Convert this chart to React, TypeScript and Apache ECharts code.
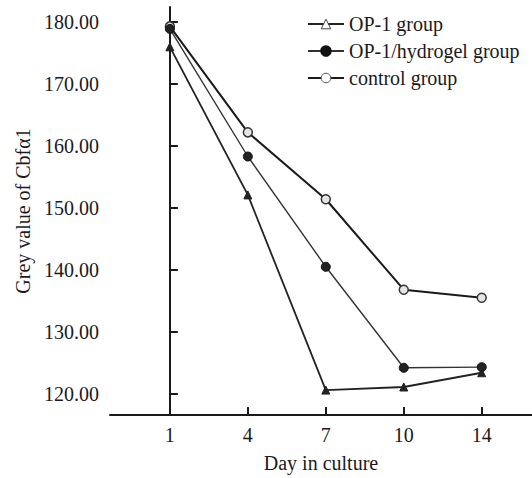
import React, { useEffect, useRef } from "react";
import * as echarts from "echarts";

const days = ["1", "4", "7", "10", "14"];
const op1Group = [176.0, 152.1, 120.6, 121.1, 123.4];
const hydrogelGroup = [178.9, 158.3, 140.5, 124.2, 124.3];
const controlGroup = [179.3, 162.2, 151.4, 136.8, 135.5];
const yTicks = [120, 130, 140, 150, 160, 170, 180];

const FONT = '"Liberation Serif", "Times New Roman", serif';
const INK = "#1a1a1a";

export default function App() {
  const ref = useRef<HTMLDivElement>(null);
  useEffect(() => {
    if (!ref.current) return;
    const chart = echarts.init(ref.current, undefined, { renderer: "svg" });
    const toPts = (arr: number[]) => arr.map((v, i) => [i, v]);
    const tickIdx = days.map((_, i) => i);
    chart.setOption({
      animation: false,
      backgroundColor: "#ffffff",
      textStyle: { fontFamily: FONT, color: INK },
      grid: { left: 110, right: 0, top: 7, bottom: 57 },
      legend: {
        orient: "vertical",
        left: 302,
        top: 9,
        itemGap: 7,
        itemWidth: 36,
        itemHeight: 12,
        textStyle: { fontFamily: FONT, fontSize: 20, color: INK },
        data: [
          { name: "OP-1 group", itemStyle: { color: "#fff", borderColor: "#444", borderWidth: 1 } },
          { name: "OP-1/hydrogel group", itemStyle: { color: "#111", borderColor: "#111" } },
          { name: "control group", itemStyle: { color: "#fff", borderColor: "#555", borderWidth: 1 } },
        ],
      },
      xAxis: {
        type: "value",
        min: -0.768,
        max: 4.645,
        name: "Day in culture",
        nameLocation: "middle",
        nameGap: 38,
        nameTextStyle: { fontFamily: FONT, fontSize: 20, color: INK },
        axisLine: { lineStyle: { color: INK, width: 2 } },
        axisTick: {
          inside: true,
          length: 8,
          lineStyle: { color: INK, width: 2 },
          customValues: tickIdx,
        },
        axisLabel: {
          fontFamily: FONT,
          fontSize: 20,
          color: INK,
          margin: 10,
          customValues: tickIdx,
          formatter: (v: number) => days[Math.round(v)] ?? "",
        },
        splitLine: { show: false },
      },
      yAxis: {
        type: "value",
        min: 116.58,
        max: 182.43,
        name: "Grey value of Cbfα1",
        nameLocation: "middle",
        nameGap: 77,
        nameTextStyle: { fontFamily: FONT, fontSize: 20, color: INK },
        axisLine: { lineStyle: { color: INK, width: 2 } },
        axisTick: {
          inside: true,
          length: 8,
          lineStyle: { color: INK, width: 2 },
          customValues: yTicks,
        },
        axisLabel: {
          fontFamily: FONT,
          fontSize: 20,
          color: INK,
          margin: 11,
          customValues: yTicks,
          formatter: (v: number) => v.toFixed(2),
        },
        splitLine: { show: false },
      },
      series: [
        {
          name: "OP-1 group",
          type: "line",
          data: toPts(op1Group),
          symbol: "triangle",
          symbolSize: 8,
          lineStyle: { color: "#222", width: 1.8 },
          itemStyle: { color: "#222", borderColor: "#222" },
          z: 3,
        },
        {
          name: "OP-1/hydrogel group",
          type: "line",
          data: toPts(hydrogelGroup),
          symbol: "circle",
          symbolSize: 9,
          lineStyle: { color: "#333", width: 1.4 },
          itemStyle: { color: "#222", borderColor: "#111", borderWidth: 1 },
          z: 4,
        },
        {
          name: "control group",
          type: "line",
          data: toPts(controlGroup),
          symbol: "circle",
          symbolSize: 9,
          lineStyle: { color: "#1a1a1a", width: 2 },
          itemStyle: { color: "#e6e6e6", borderColor: "#333", borderWidth: 1.5 },
          z: 2,
        },
      ],
    });
    return () => chart.dispose();
  }, []);
  return (
    <div
      ref={ref}
      style={{ position: "fixed", left: 0, top: 0, width: 532, height: 478, background: "#fff" }}
    />
  );
}
